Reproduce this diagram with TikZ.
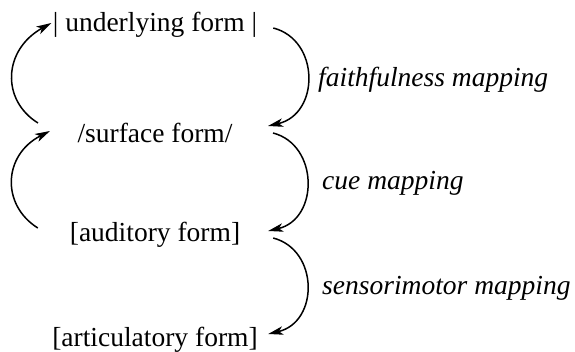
\documentclass[tikz,border=0pt]{standalone}
\usepackage{fontspec}
\setmainfont{Liberation Serif}
\newfontfamily\tnr{Liberation Serif}
\usetikzlibrary{arrows.meta}
\newcommand{\bigtnr}{\fontsize{27.5}{32}\selectfont\tnr}
\begin{document}
\begin{tikzpicture}[x=1pt,y=1pt,
  arc/.style={line width=1.5pt, -{Stealth[length=15pt,width=8.5pt,inset=4pt]}}]
\useasboundingbox (0,0) rectangle (575,352);
\node (u) at (155,327) {\bigtnr | underlying form |};
\node (s) at (155,219) {\bigtnr /surface form/};
\node (a) at (155,117) {\bigtnr [auditory form]};
\node (r) at (155,12) {\bigtnr [articulatory form]};
% right arcs
\draw[arc] ([shift={(12.6,-3)}]u.east) .. controls (320,312) and (320,238) .. ([shift={(32,7)}]s.east);
\draw[arc] ([shift={(37,0)}]s.east) .. controls (319,207) and (319,133) .. ([shift={(24.5,4)}]a.east);
\draw[arc] ([shift={(29.5,-3)}]a.east) .. controls (319,102) and (319,30) .. ([shift={(7,6)}]r.east);
% left arcs
\draw[arc] ([shift={(-36,10)}]s.west) .. controls (1,252) and (3,302) .. ([shift={(2,2)}]u.west);
\draw[arc] ([shift={(-28.5,7)}]a.west) .. controls (1,147) and (3,197) .. ([shift={(-24,2)}]s.west);
% labels
\node[anchor=west] (l1) at (314.7,272) {\bigtnr\itshape faithfulness mapping};
\node[anchor=west] (l2) at (318.7,169) {\bigtnr\itshape cue mapping};
\node[anchor=west] (l3) at (318.7,64) {\bigtnr\itshape sensorimotor mapping};
\end{tikzpicture}
\end{document}
